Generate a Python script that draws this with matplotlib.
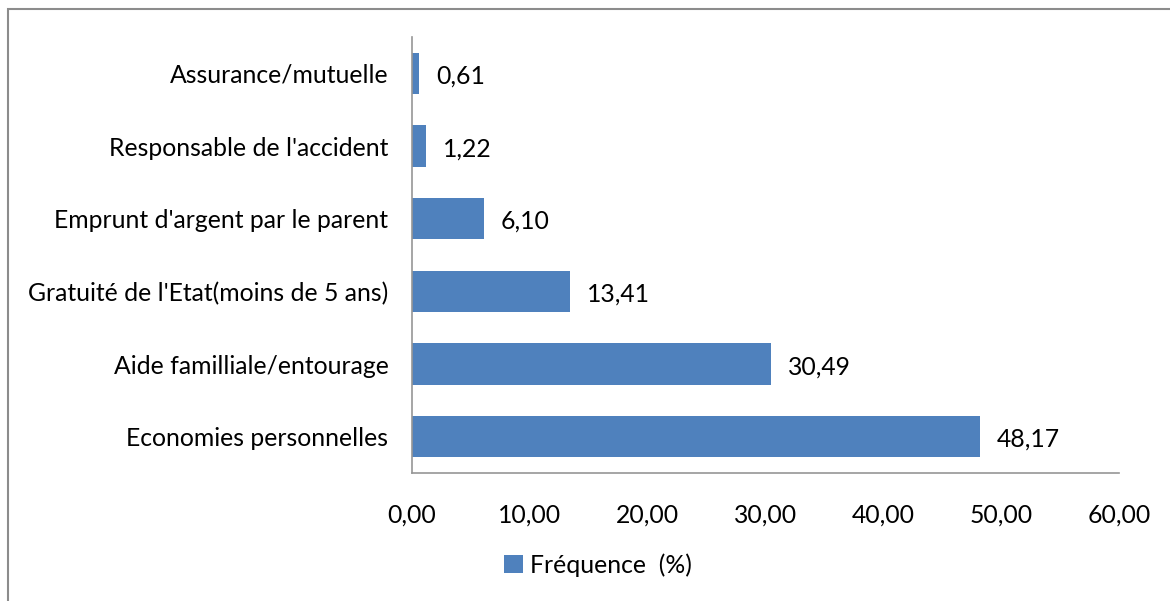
import matplotlib.pyplot as plt
from matplotlib.patches import Rectangle

categories = ["Economies personnelles", "Aide familliale/entourage",
              "Gratuité de l'Etat(moins de 5 ans)", "Emprunt d'argent par le parent",
              "Responsable de l'accident", "Assurance/mutuelle"]
values = [48.17, 30.49, 13.41, 6.10, 1.22, 0.61]
xticks = [0, 10, 20, 30, 40, 50, 60]

plt.rcParams['font.family'] = ['Lato', 'DejaVu Sans']
FS = 17.8

W, H = 1170, 601
fig = plt.figure(figsize=(W / 100, H / 100), dpi=100)
ax = fig.add_axes([412 / W, 1 - 473 / H, (1119 - 412) / W, (473 - 37) / H])

bars = ax.barh(range(len(values)), values, height=0.57, color="#4F81BD",
               label="Fréquence  (%)")
for b, v in zip(bars, values):
    ax.annotate(f"{v:.2f}".replace(".", ","), (b.get_width(), b.get_y() + b.get_height() / 2),
                xytext=(12, -2), textcoords="offset points", va="center", ha="left",
                fontsize=FS)

ax.set_xlim(0, 60)
ax.set_ylim(-0.5, len(values) - 0.5)
ax.set_xticks(xticks)
ax.set_xticklabels([f"{t:.2f}".replace(".", ",") for t in xticks], fontsize=FS)
ax.set_yticks(range(len(categories)))
ax.set_yticklabels(categories, fontsize=FS)
ax.tick_params(axis="x", length=0, pad=22)
ax.tick_params(axis="y", length=0, pad=17)
for s in ["top", "right"]:
    ax.spines[s].set_visible(False)
for s in ["left", "bottom"]:
    ax.spines[s].set_color("#969696")
    ax.spines[s].set_linewidth(1.2)

fig.legend(loc="center", bbox_to_anchor=(598 / W, 1 - 565 / H), frameon=False,
           fontsize=FS, handlelength=0.75, handleheight=0.75, handletextpad=0.3)

# outer chart border
fig.patches.append(Rectangle((8 / W, -0.1), 1.2, 1 - 9 / H + 0.1, transform=fig.transFigure,
                             fill=False, edgecolor="#8c8c8c", linewidth=1.5))

fig.savefig("out.png", dpi=100)
